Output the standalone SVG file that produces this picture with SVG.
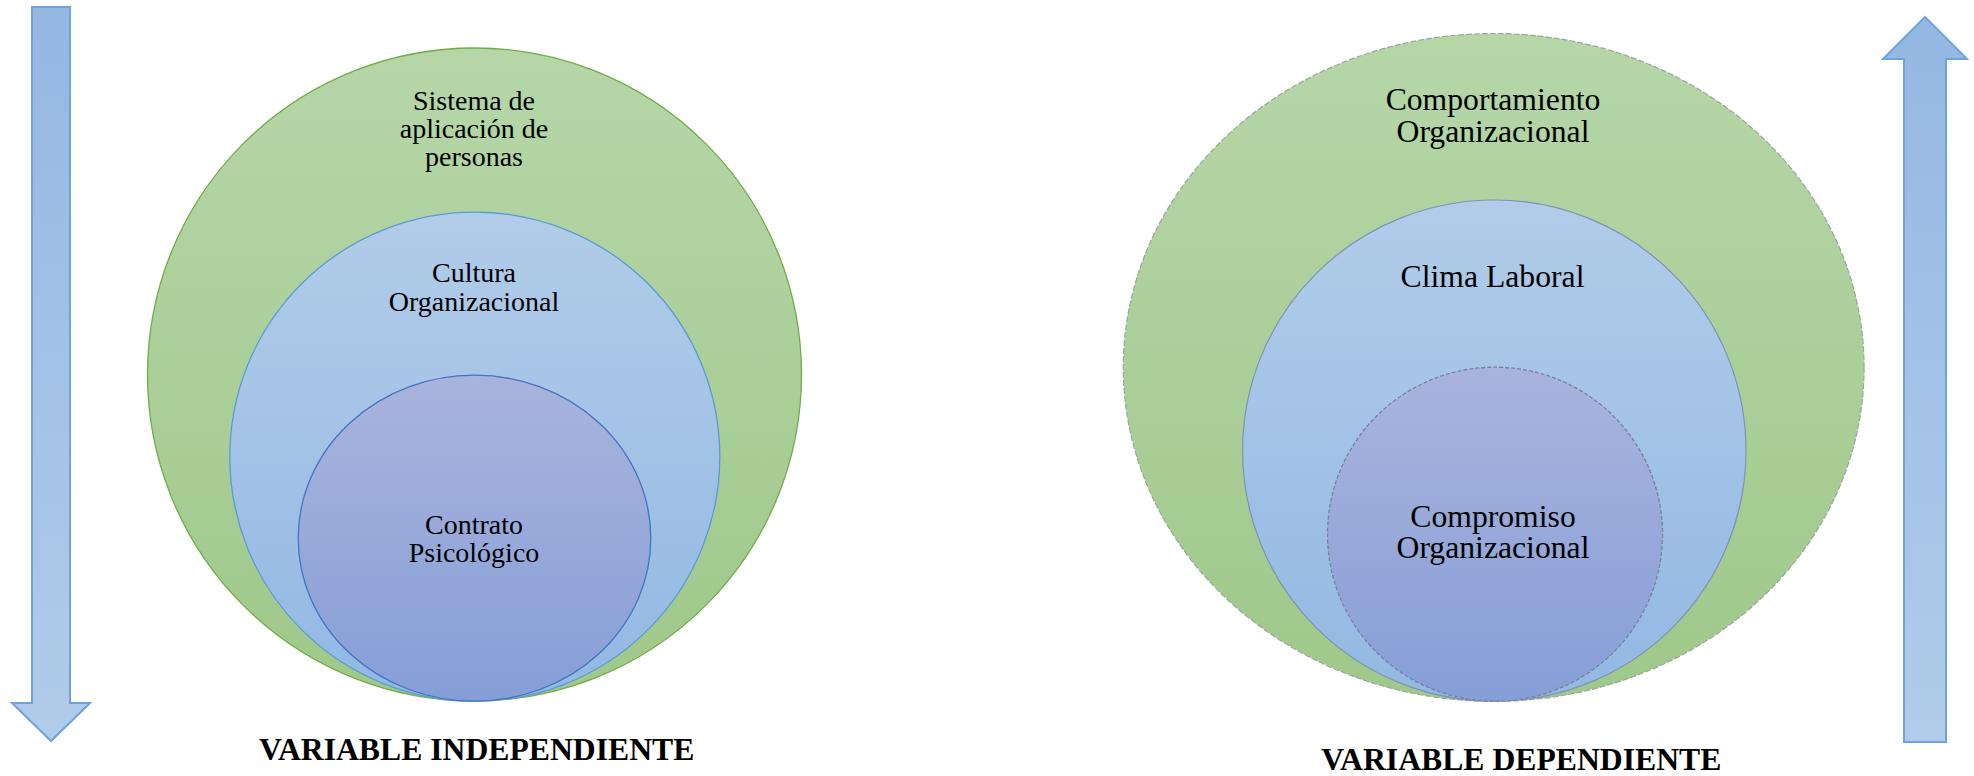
<svg xmlns="http://www.w3.org/2000/svg" width="1974" height="776" viewBox="0 0 1974 776">
<defs>
<linearGradient id="gGreen" x1="0" y1="0" x2="0" y2="1"><stop offset="0" stop-color="#b6d6a8"/><stop offset="1" stop-color="#9fc88a"/></linearGradient>
<linearGradient id="gBlue" x1="0" y1="0" x2="0" y2="1"><stop offset="0" stop-color="#b2cce9"/><stop offset="1" stop-color="#92b8e3"/></linearGradient>
<linearGradient id="gPurple" x1="0" y1="0" x2="0" y2="1"><stop offset="0" stop-color="#a9b4dd"/><stop offset="1" stop-color="#869ed7"/></linearGradient>
<linearGradient id="gArrow" x1="0" y1="0" x2="0" y2="1"><stop offset="0" stop-color="#94b8e3"/><stop offset="1" stop-color="#b1ccea"/></linearGradient>
</defs>
<style>
.arrow{fill:url(#gArrow);stroke:#6fa3dc;stroke-width:2;stroke-linejoin:miter}
.green{fill:url(#gGreen);stroke:#70ad47;stroke-width:1.3}
.blue{fill:url(#gBlue);stroke:#5b9bd5;stroke-width:1.3}
.purple{fill:url(#gPurple);stroke:#4472c4;stroke-width:1.3}
.green2{fill:url(#gGreen);stroke:#98a898;stroke-width:1.2;stroke-dasharray:6 2}
.blue2{fill:url(#gBlue);stroke:#7d93b3;stroke-width:1.2}
.purple2{fill:url(#gPurple);stroke:#7780a3;stroke-width:1.3;stroke-dasharray:4 2}
.lbl{font-family:"Liberation Serif","Times New Roman",serif;font-size:28px;fill:#000;text-anchor:middle}
.lbl2{font-family:"Liberation Serif","Times New Roman",serif;font-size:31.7px;fill:#000;text-anchor:middle}
.title{font-family:"Liberation Serif","Times New Roman",serif;font-size:31.7px;font-weight:bold;fill:#000;text-anchor:middle}
</style>
<g id="connectors">
<polygon id="arrow-down" class="arrow" points="32,7 70,7 70,703 90,703 51,741 12,703 32,703"/>
<polygon id="arrow-up" class="arrow" points="1925,17 1967,59 1946,59 1946,742 1904,742 1904,59 1883,59"/>
</g>
<g id="node-sistema">
<ellipse class="green" cx="474.5" cy="374.5" rx="327" ry="326.5"/>
<text class="lbl" x="474" y="110">Sistema de</text>
<text class="lbl" x="474" y="138">aplicación de</text>
<text class="lbl" x="474" y="166">personas</text>
</g>
<g id="node-cultura">
<ellipse class="blue" cx="474.8" cy="456.7" rx="245" ry="244.5"/>
<text class="lbl" x="474" y="282">Cultura</text>
<text class="lbl" x="474" y="311">Organizacional</text>
</g>
<g id="node-contrato">
<ellipse class="purple" cx="474.5" cy="538.2" rx="176.3" ry="163"/>
<text class="lbl" x="474" y="533.5">Contrato</text>
<text class="lbl" x="474" y="561.5">Psicológico</text>
</g>
<g id="node-comportamiento">
<ellipse class="green2" cx="1493.7" cy="367.4" rx="370.4" ry="333.9"/>
<text class="lbl2" x="1493" y="110">Comportamiento</text>
<text class="lbl2" x="1493" y="141.5">Organizacional</text>
</g>
<g id="node-clima">
<ellipse class="blue2" cx="1494.3" cy="450.6" rx="251.7" ry="250.6"/>
<text class="lbl2" x="1492.5" y="287">Clima Laboral</text>
</g>
<g id="node-compromiso">
<ellipse class="purple2" cx="1495" cy="534.2" rx="167.5" ry="167"/>
<text class="lbl2" x="1493" y="526.5">Compromiso</text>
<text class="lbl2" x="1493" y="558">Organizacional</text>
</g>
<g id="label-independiente">
<text class="title" x="476.7" y="760">VARIABLE INDEPENDIENTE</text>
</g>
<g id="label-dependiente">
<text class="title" x="1521.3" y="770">VARIABLE DEPENDIENTE</text>
</g>
</svg>
